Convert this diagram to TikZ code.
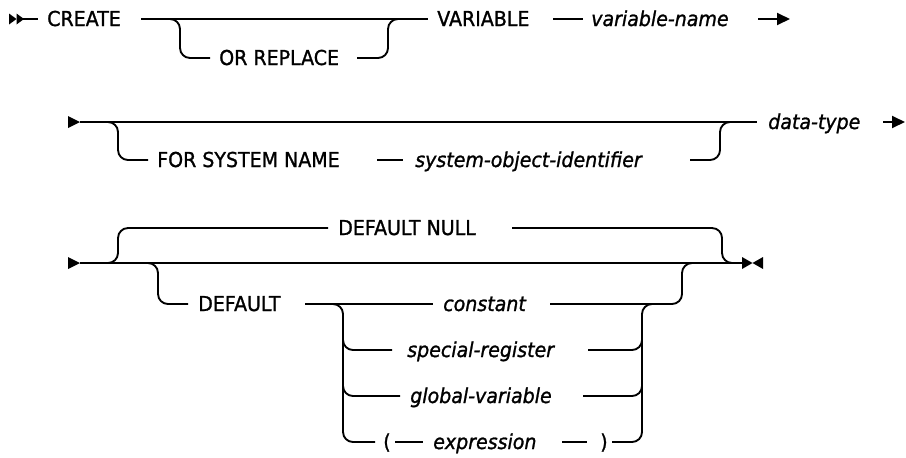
\documentclass[tikz,border=0pt]{standalone}
\usepackage{fontspec}
\setmainfont{DejaVu Sans}[FakeBold=1.2, FakeStretch=0.925]
\usetikzlibrary{arrows.meta}

\begin{document}
\begin{tikzpicture}[
    x=0.75pt, y=-0.75pt,
    font=\fontsize{15.4}{18}\selectfont,
    rail/.style={line width=1.4pt, rounded corners=7.5pt},
    kw/.style={anchor=base west, inner sep=0pt},
    var/.style={kw, font=\fontsize{15.4}{18}\selectfont\itshape},
    tip/.style={-{Triangle[length=9.75pt, width=9pt]}}
    ]

    \useasboundingbox (0,0) rectangle (906,457);

    % Row 1: CREATE [OR REPLACE] VARIABLE variable-name
    \fill (9,13.5) -- (16.5,19) -- (9,24.5) -- cycle;
    \fill (16.5,13.5) -- (24,19) -- (16.5,24.5) -- cycle;
    \draw[rail] (23,19) -- (38,19);
    \node[kw] (create) at (47,26) {CREATE};
    \draw[rail] (141,19) -- (428,19);
    \draw[rail] (160,19) -- (180,19) -- (180,58) -- (210,58);
    \node[kw] (orreplace) at (219,65) {OR REPLACE};
    \draw[rail] (357,58) -- (388,58) -- (388,19) -- (400,19);
    \node[kw] (variable) at (437,26) {VARIABLE};
    \draw[rail] (553,19) -- (583,19);
    \node[var] (varname) at (591,26) {variable-name};
    \draw[rail, tip] (758,19) -- (790,19);

    % Row 2: [FOR SYSTEM NAME system-object-identifier] data-type
    \fill (68,116) -- (80,122) -- (68,128) -- cycle;
    \draw[rail] (80,122) -- (757,122);
    \draw[rail] (100,122) -- (118,122) -- (118,160) -- (148,160);
    \node[kw] (forsys) at (157,167) {FOR SYSTEM NAME};
    \draw[rail] (377,160) -- (403,160);
    \node[var] (sysobj) at (415,167) {system-object-identifier};
    \draw[rail] (690,160) -- (720,160) -- (720,122) -- (735,122);
    \node[var] (datatype) at (768,129) {data-type};
    \draw[rail, tip] (883,122) -- (905,122);

    % Row 3: DEFAULT NULL | DEFAULT value
    \fill (68,257) -- (80,263) -- (68,269) -- cycle;
    \draw[rail] (80,263) -- (742,263);
    \fill (742,257) -- (752.5,263) -- (742,269) -- cycle;
    \fill (763,257) -- (752.5,263) -- (763,269) -- cycle;

    % upper branch
    \draw[rail] (100,263) -- (118,263) -- (118,228) -- (328,228);
    \node[kw] (defnull) at (338,235) {DEFAULT NULL};
    \draw[rail] (512,228) -- (722,228) -- (722,263) -- (740,263);

    % lower branch
    \draw[rail] (140,263) -- (158,263) -- (158,304) -- (188,304);
    \node[kw] (default) at (198,311) {DEFAULT};
    \draw[rail] (305,304) -- (433,304);
    \node[var] (constant) at (443,311) {constant};
    \draw[rail] (550,304) -- (682,304) -- (682,263) -- (700,263);

    % choices after DEFAULT
    \draw[rail] (333,304) -- (343,304) -- (343,442) -- (375,442);
    \draw[rail] (343,330) -- (343,350) -- (392,350);
    \draw[rail] (343,375) -- (343,396) -- (400,396);
    \node[var] (specreg) at (407,357) {special-register};
    \node[var] (globvar) at (410,403) {global-variable};
    \node[kw] (lparen) at (383,449) {(};
    \draw[rail] (395,442) -- (423,442);
    \node[var] (expr) at (433,449) {expression};
    \draw[rail] (562,442) -- (587,442);
    \node[kw] (rparen) at (600,449) {)};
    \draw[rail] (612,442) -- (642,442) -- (642,304) -- (652,304);
    \draw[rail] (588,350) -- (642,350) -- (642,330);
    \draw[rail] (583,396) -- (642,396) -- (642,375);

\end{tikzpicture}
\end{document}
